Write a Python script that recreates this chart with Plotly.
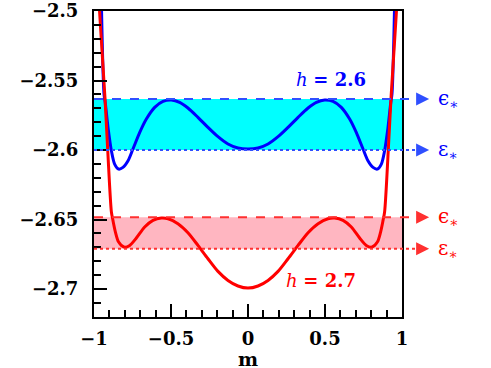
import plotly.graph_objects as go

# (blue: h = 2.6, red: h = 2.7)
m_blue = [-0.951, -0.935, -0.926, -0.909, -0.887, -0.866, -0.840, -0.812, -0.779, -0.747,
          -0.703, -0.660, -0.606, -0.552, -0.498, -0.444, -0.390, -0.325, -0.260, -0.195,
          -0.130, -0.065, 0.0,
          0.065, 0.130, 0.195, 0.260, 0.325, 0.390, 0.444, 0.498, 0.552, 0.606, 0.660,
          0.703, 0.747, 0.779, 0.812, 0.840, 0.866, 0.887, 0.909, 0.926, 0.935, 0.951]
v_blue = [-2.5000, -2.5597, -2.5669, -2.5837, -2.6005, -2.6101, -2.6137, -2.6125, -2.6077, -2.5993,
          -2.5873, -2.5777, -2.5693, -2.5650, -2.5640, -2.5657, -2.5698, -2.5765, -2.5837, -2.5904,
          -2.5957, -2.5986, -2.5993,
          -2.5986, -2.5957, -2.5904, -2.5837, -2.5765, -2.5698, -2.5657, -2.5640, -2.5650, -2.5693,
          -2.5777, -2.5873, -2.5993, -2.6077, -2.6125, -2.6137, -2.6101, -2.6005, -2.5837, -2.5669,
          -2.5597, -2.5000]

m_red = [-0.964, -0.929, -0.911, -0.887, -0.877, -0.861, -0.840, -0.805, -0.768, -0.725,
         -0.671, -0.617, -0.563, -0.519, -0.455, -0.390, -0.325, -0.260, -0.195, -0.130,
         -0.065, 0.0,
         0.065, 0.130, 0.195, 0.260, 0.325, 0.390, 0.455, 0.519, 0.563, 0.617, 0.671,
         0.725, 0.768, 0.805, 0.840, 0.861, 0.877, 0.887, 0.911, 0.929, 0.964]
v_red = [-2.5000, -2.5620, -2.6000, -2.6446, -2.6506, -2.6590, -2.6662, -2.6698, -2.6686, -2.6633,
         -2.6554, -2.6506, -2.6489, -2.6494, -2.6530, -2.6595, -2.6686, -2.6782, -2.6873, -2.6938,
         -2.6978, -2.6993,
         -2.6978, -2.6938, -2.6873, -2.6782, -2.6686, -2.6595, -2.6530, -2.6494, -2.6489, -2.6506,
         -2.6554, -2.6633, -2.6686, -2.6698, -2.6662, -2.6590, -2.6506, -2.6446, -2.6000, -2.5620,
         -2.5000]

# band edges: (upper, lower)
eps_blue = [-2.5633, -2.6000]
eps_red = [-2.6484, -2.6710]

y_ticks = [-2.5, -2.55, -2.6, -2.65, -2.7]
y_text = ["\u22122.5", "\u22122.55", "\u22122.6", "\u22122.65", "\u22122.7"]
x_ticks = [-1, -0.5, 0, 0.5, 1]
x_text = ["\u22121", "\u22120.5", "0", "0.5", "1"]

FONT = "DejaVu Serif"
BLUE = "#0000ff"
RED = "#ff0000"

fig = go.Figure()

fig.add_trace(go.Scatter(x=m_blue, y=v_blue, mode="lines",
                         line=dict(color=BLUE, width=3, shape="spline", smoothing=0.8)))
fig.add_trace(go.Scatter(x=m_red, y=v_red, mode="lines",
                         line=dict(color=RED, width=3, shape="spline", smoothing=0.8)))

# shaded bands
fig.add_shape(type="rect", xref="paper", yref="y", x0=0, x1=1,
              y0=eps_blue[1], y1=eps_blue[0], fillcolor="#00ffff", line_width=0, layer="below")
fig.add_shape(type="rect", xref="paper", yref="y", x0=0, x1=1,
              y0=eps_red[1], y1=eps_red[0], fillcolor="#ffb6c1", line_width=0, layer="below")

# guide lines running out to the arrows
ARROW_X = 1.088
for vals, col, lcol in [(eps_blue, BLUE, "#2f4fff"), (eps_red, RED, "#ff3030")]:
    for val, dash, lab in [(vals[0], "dash", "\u03f5"), (vals[1], "dot", "\u03b5")]:
        fig.add_shape(type="line", xref="paper", yref="y", x0=0, x1=ARROW_X - 0.02,
                      y0=val, y1=val, line=dict(color=lcol, width=2, dash=dash), layer="above")
        fig.add_annotation(xref="paper", yref="y", x=ARROW_X, y=val, text="",
                           showarrow=True, ax=-10, ay=0, arrowhead=2, arrowsize=1.3,
                           arrowwidth=2, arrowcolor=lcol)
        fig.add_annotation(xref="paper", yref="y", x=1.11, y=val,
                           text=lab + "<sub>\u2217</sub>", showarrow=False,
                           xanchor="left", yanchor="middle",
                           font=dict(family=FONT, size=20, color=col))

fig.add_annotation(x=0.539, y=-2.5496, text="<i>h</i> <b>= 2.6</b>", showarrow=False,
                   font=dict(family=FONT, size=18, color=BLUE))
fig.add_annotation(x=0.474, y=-2.6935, text="<i>h</i> <b>= 2.7</b>", showarrow=False,
                   font=dict(family=FONT, size=18, color=RED))

# x axis title as annotation (title placement fights the fixed margins)
fig.add_annotation(xref="paper", yref="paper", x=0.5, y=-0.136, text="<b>m</b>",
                   showarrow=False, yanchor="middle",
                   font=dict(family=FONT, size=19, color="black"))

axis_common = dict(showline=True, mirror=True, linecolor="black", linewidth=2,
                   ticks="inside", tickcolor="black", tickwidth=2, ticklen=13,
                   showgrid=False, zeroline=False, automargin=False,
                   ticklabeloverflow="allow",
                   tickfont=dict(family=FONT, size=18, color="black", weight="bold"))

fig.update_xaxes(range=[-1, 1], tickvals=x_ticks, ticktext=x_text,
                 minor=dict(dtick=0.1, tick0=-1, ticks="inside", ticklen=7,
                            tickwidth=2, tickcolor="black"),
                 ticklabelstandoff=4, **axis_common)
fig.update_yaxes(range=[-2.7201, -2.5], tickvals=y_ticks, ticktext=y_text,
                 minor=dict(dtick=0.01, tick0=-2.5, ticks="inside", ticklen=7,
                            tickwidth=2, tickcolor="black"),
                 ticklabelstandoff=10, **axis_common)

fig.update_layout(width=491, height=368, showlegend=False,
                  margin=dict(l=94, r=89, t=11, b=51),
                  plot_bgcolor="white", paper_bgcolor="white")

# drop the default body margin so the figure fills the window
fig.write_html("out.html", config={"displayModeBar": False},
               post_script="document.body.style.margin = '0';")
